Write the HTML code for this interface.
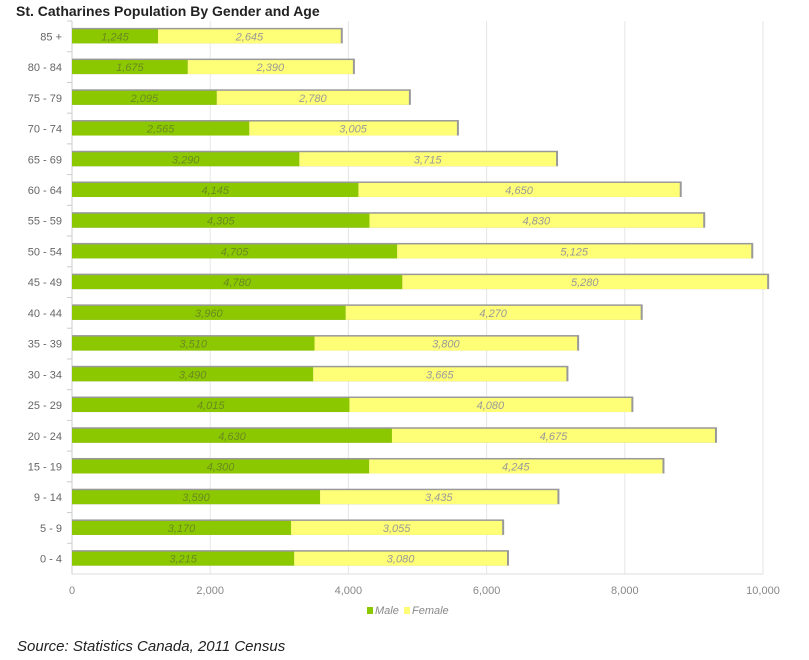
<!DOCTYPE html>
<html><head><meta charset="utf-8">
<style>
body{margin:0;background:#fff;width:809px;height:660px;overflow:hidden;font-family:"Liberation Sans",sans-serif}
#title{position:absolute;left:16px;top:3px;font-weight:bold;font-size:14px;color:#222}
#src{position:absolute;left:17px;top:638px;font-style:italic;font-size:15px;color:#222}
svg{position:absolute;left:0;top:0}
</style></head><body>
<div id="title">St. Catharines Population By Gender and Age</div>
<div id="src">Source: Statistics Canada, 2011 Census</div>
<svg id="chart" width="809" height="660"></svg>
<script>
const categories=["85 +","80 - 84","75 - 79","70 - 74","65 - 69","60 - 64","55 - 59","50 - 54","45 - 49","40 - 44","35 - 39","30 - 34","25 - 29","20 - 24","15 - 19","9 - 14","5 - 9","0 - 4"];
const male=[1245,1675,2095,2565,3290,4145,4305,4705,4780,3960,3510,3490,4015,4630,4300,3590,3170,3215];
const female=[2645,2390,2780,3005,3715,4650,4830,5125,5280,4270,3800,3665,4080,4675,4245,3435,3055,3080];
const ticks=[0,2000,4000,6000,8000,10000];
const NS="http://www.w3.org/2000/svg";
const svg=document.getElementById('chart');
const x0=72,x1=763,yTop=21,yBot=574;
const band=(yBot-yTop)/categories.length;
const xs=v=>x0+(v/10000)*(x1-x0);
const yc=i=>yTop+band*(i+0.5);
function mk(t,a,p){const e=document.createElementNS(NS,t);for(const k in a)e.setAttribute(k,a[k]);(p||svg).appendChild(e);return e;}
ticks.forEach(t=>{
  const g=mk('line',{x1:xs(t),x2:xs(t),y1:yTop,y2:yBot,stroke:'#e6e6e6','stroke-width':1});
  
  
  const l=mk('text',{x:xs(t),y:594,'text-anchor':'middle','font-size':11,fill:'#888'});
  l.textContent=t.toLocaleString('en-US');
  
  
});
const ax=mk('line',{x1:x0,x2:x1,y1:yBot,y2:yBot,stroke:'#ddd'});


const ay=mk('line',{x1:x0,x2:x0,y1:yTop,y2:yBot,stroke:'#ccc'});


const h=14;
categories.forEach((c,i)=>{
  const y=yc(i);
  const tk=mk('line',{x1:x0-5,x2:x0,y1:yTop+band*i,y2:yTop+band*i,stroke:'#ccc'});
  
  
  const lb=mk('text',{x:x0-10,y:y+4,'text-anchor':'end','font-size':11,fill:'#666'});
  lb.textContent=c;
  
  
  const tot=male[i]+female[i];
  const sh=mk('rect',{x:x0,y:y-h/2-1.5,width:xs(tot)-x0+2,height:h+1.5,fill:'#999'});
  
  
  const bm=mk('rect',{x:x0,y:y-h/2,width:xs(male[i])-x0,height:h,fill:'#8cc800'});
  
  
  const bf=mk('rect',{x:xs(male[i]),y:y-h/2,width:xs(tot)-xs(male[i]),height:h,fill:'#ffff77'});
  
  
  const tm=mk('text',{x:(x0+xs(male[i]))/2,y:y+4,'text-anchor':'middle','font-size':11,'font-style':'italic',fill:'#6a8a20'});
  tm.textContent=male[i].toLocaleString('en-US');
  
  
  const tf=mk('text',{x:(xs(male[i])+xs(tot))/2,y:y+4,'text-anchor':'middle','font-size':11,'font-style':'italic',fill:'#999'});
  tf.textContent=female[i].toLocaleString('en-US');
  
  
});
const lg=mk('g',{});


const s1=mk('rect',{x:367,y:607,width:6,height:7,fill:'#8cc800'},lg);


const t1=mk('text',{x:375,y:614,'font-size':11,'font-style':'italic',fill:'#888'},lg);
t1.textContent='Male';


const s2=mk('rect',{x:404,y:607,width:6,height:7,fill:'#ffff77'},lg);


const t2=mk('text',{x:412,y:614,'font-size':11,'font-style':'italic',fill:'#888'},lg);
t2.textContent='Female';


</script>
</body></html>
